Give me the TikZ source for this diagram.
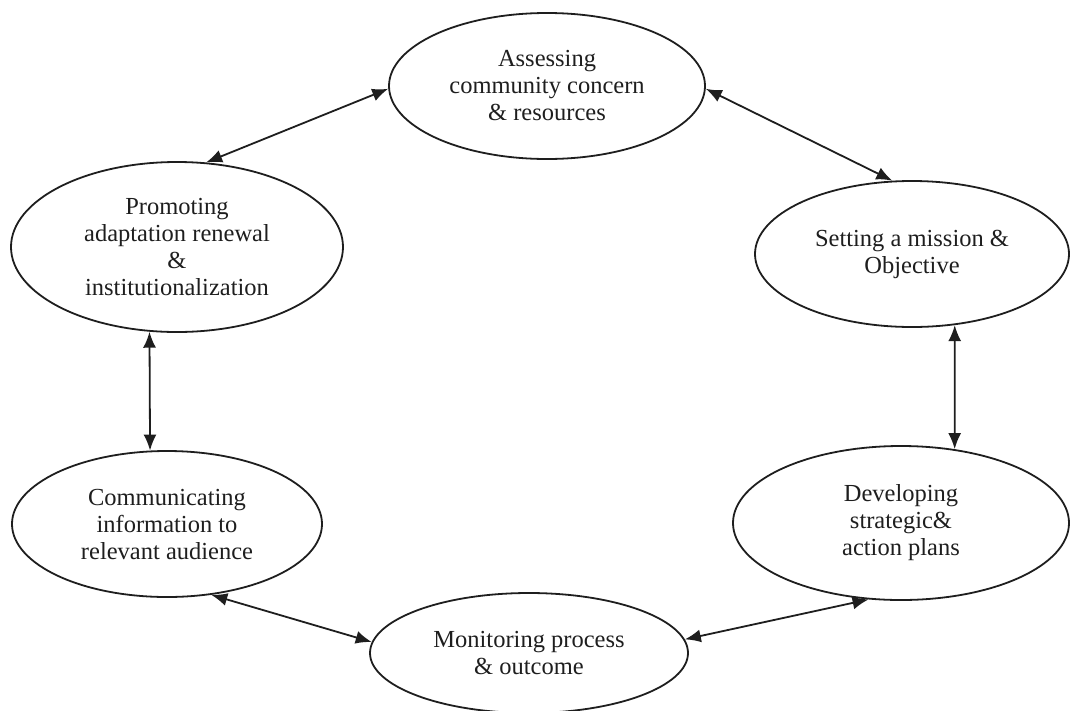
\documentclass[tikz,border=0pt]{standalone}
\usepackage{fontspec}
\setmainfont{Liberation Serif}
\usetikzlibrary{shapes.geometric,arrows.meta}
\definecolor{ink}{HTML}{1E1E1E}
\tikzset{
  stage/.style={ellipse, draw=ink, line width=1.8pt, inner sep=0pt,
    align=center, text=ink, font=\fontsize{24.5}{27}\selectfont},
  link/.style={draw=ink, line width=1.8pt,
    {Latex[length=16pt,width=13pt]}-{Latex[length=16pt,width=13pt]}}
}
\begin{document}
\begin{tikzpicture}[x=1pt,y=-1pt]
\useasboundingbox (0,0) rectangle (1070,710);
% the six stages of the cycle
\node[stage, minimum width=316pt, minimum height=146pt] (assess) at (547,86)
  {Assessing\\community concern\\\& resources};
\node[stage, minimum width=314pt, minimum height=146pt] (mission) at (912,254)
  {Setting a mission \&\\Objective};
\node[stage, minimum width=336pt, minimum height=154pt] (develop) at (901,523)
  {Developing\\strategic\&\\action plans};
\node[stage, minimum width=318pt, minimum height=120pt] (monitor) at (529,653)
  {Monitoring process\\\& outcome};
\node[stage, minimum width=310pt, minimum height=146pt] (comm) at (167,524)
  {Communicating\\information to\\relevant audience};
\node[stage, minimum width=332pt, minimum height=170pt] (promote) at (177,247)
  {Promoting\\adaptation renewal\\\&\\institutionalization};
% two-way links between neighbouring stages
\draw[link] (promote.71) -- (assess.181);
\draw[link] (assess.359) -- (mission.105);
\draw[link] (mission.301) -- (develop.54);
\draw[link] (develop.247) -- (monitor.5);
\draw[link] (monitor.176) -- (comm.302);
\draw[link] (comm.103) -- (promote.252);
\end{tikzpicture}
\end{document}
